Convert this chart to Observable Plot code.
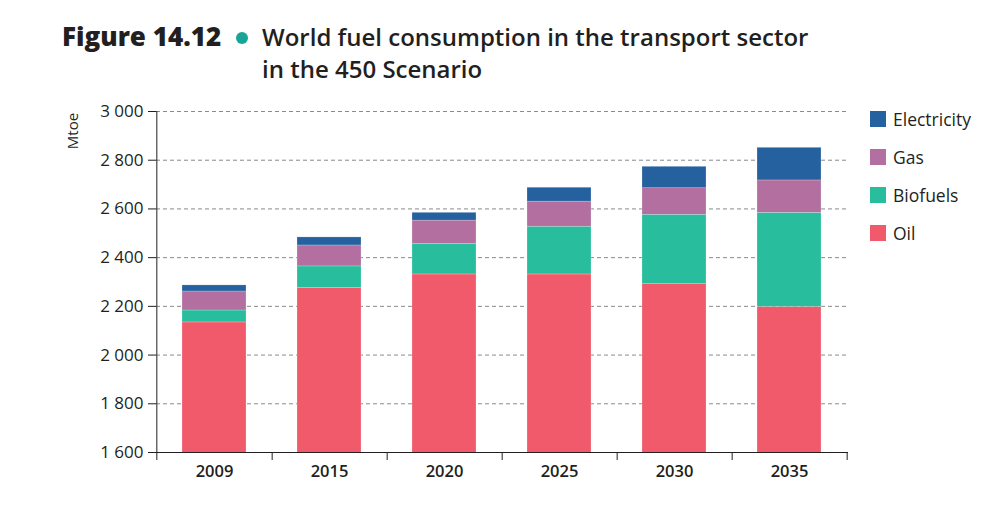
<!DOCTYPE html>
<html>
<head>
<meta charset="utf-8">
<script src="https://cdn.jsdelivr.net/npm/d3@7"></script>
<script src="https://cdn.jsdelivr.net/npm/@observablehq/plot@0.6"></script>
<style>
  html, body { margin: 0; padding: 0; background: #fff; }
  #wrap { position: relative; width: 1000px; height: 509px; overflow: hidden; font-family: "Open Sans", sans-serif; color: #231f20; }
  #chart { position: absolute; left: 0; top: 0; }
  .t { position: absolute; line-height: 1; white-space: nowrap; }
  #fig { left: 62px; top: 23px; font-size: 26px; font-weight: 800; }
  #dot { position: absolute; left: 236px; top: 32px; width: 12px; height: 12px; border-radius: 50%; background: #16a596; }
  #t1 { left: 262px; top: 25px; font-size: 24px; font-weight: 600; }
  #t2 { left: 262px; top: 57px; font-size: 24px; font-weight: 600; }
  #ylab { position: absolute; left: 72px; top: 131px; font-size: 15px; transform: translate(-50%, -50%) rotate(-90deg); line-height: 1; }
  #legend { position: absolute; left: 870px; top: 111px; }
  .li { position: absolute; left: 0; height: 16px; display: flex; align-items: center; font-size: 17.5px; white-space: nowrap; }
  .sw { width: 16px; height: 16px; margin-right: 7px; flex: none; }
</style>
</head>
<body>
<div id="wrap">
  <div id="chart"></div>
  <div class="t" id="fig">Figure 14.12</div>
  <div id="dot"></div>
  <div class="t" id="t1">World fuel consumption in the transport sector</div>
  <div class="t" id="t2">in the 450 Scenario</div>
  <div id="ylab">Mtoe</div>
  <div id="legend"></div>
</div>
<script>
const years = ["2009", "2015", "2020", "2025", "2030", "2035"];
const oil = [2134, 2276, 2331, 2331, 2291, 2198];
const biofuels = [49, 88, 126, 196, 285, 386];
const gas = [78, 86, 95, 103, 109, 133];
const electricity = [25, 33, 32, 57, 88, 134];
const fuels = ["Oil", "Biofuels", "Gas", "Electricity"];
const legendOrder = ["Electricity", "Gas", "Biofuels", "Oil"];
const colors = {Electricity: "#25609f", Gas: "#b26fa0", Biofuels: "#28bd9c", Oil: "#f05a6a"};
const yTicks = [1600, 1800, 2000, 2200, 2400, 2600, 2800, 3000];

const series = {Oil: oil, Biofuels: biofuels, Gas: gas, Electricity: electricity};
const data = [];
years.forEach((yr, i) => {
  fuels.forEach(f => data.push({year: yr, fuel: f, value: series[f][i]}));
});

const W = 1000, H = 509, ML = 156, MR = 152, MT = 111, MB = 57;
const step = (W - ML - MR) / years.length;
const fmt = d => d3.format(",")(d).replace(/,/g, " ");

const chart = Plot.plot({
  width: W, height: H,
  marginLeft: ML, marginRight: MR, marginTop: MT, marginBottom: MB,
  style: {fontFamily: "Open Sans, sans-serif", fontSize: "16.5px", color: "#231f20", background: "transparent"},
  x: {domain: years, paddingInner: 0.44, paddingOuter: 0.22, label: null},
  y: {domain: [1600, 3000], label: null},
  color: {domain: legendOrder, range: legendOrder.map(k => colors[k])},
  marks: [
    Plot.gridY(yTicks, {stroke: "#8a8a8a", strokeOpacity: 1, strokeDasharray: "4,3"}),
    Plot.barY(data, {x: "year", y: "value", fill: "fuel", order: fuels, clip: true, stroke: "#ffffff", strokeOpacity: 0.35, strokeWidth: 0.6}),
    Plot.ruleY([1600], {stroke: "#231f20"}),
    Plot.ruleX([years[0]], {x: d => d, dx: -step / 2, y1: 1600, y2: 3000, stroke: "#231f20"}),
    Plot.axisY(yTicks, {anchor: "left", tickSize: 8, tickPadding: 5, tickFormat: fmt, label: null, stroke: "#231f20", fontSize: 17}),
    Plot.axisX({anchor: "bottom", tickSize: 0, tickPadding: 13, label: null, fontWeight: 600}),
    Plot.axisX(years, {anchor: "bottom", tickSize: 8, tickFormat: () => "", dx: step / 2, label: null, stroke: "#231f20"}),
    Plot.axisX([years[0]], {anchor: "bottom", tickSize: 8, tickFormat: () => "", dx: -step / 2, label: null, stroke: "#231f20"})
  ]
});
document.getElementById("chart").appendChild(chart);

const legend = document.getElementById("legend");
legendOrder.forEach((k, i) => {
  const el = document.createElement("div");
  el.className = "li";
  el.style.top = (i * 38) + "px";
  el.innerHTML = `<span class="sw" style="background:${colors[k]}"></span><span>${k}</span>`;
  legend.appendChild(el);
});
</script>
</body>
</html>
